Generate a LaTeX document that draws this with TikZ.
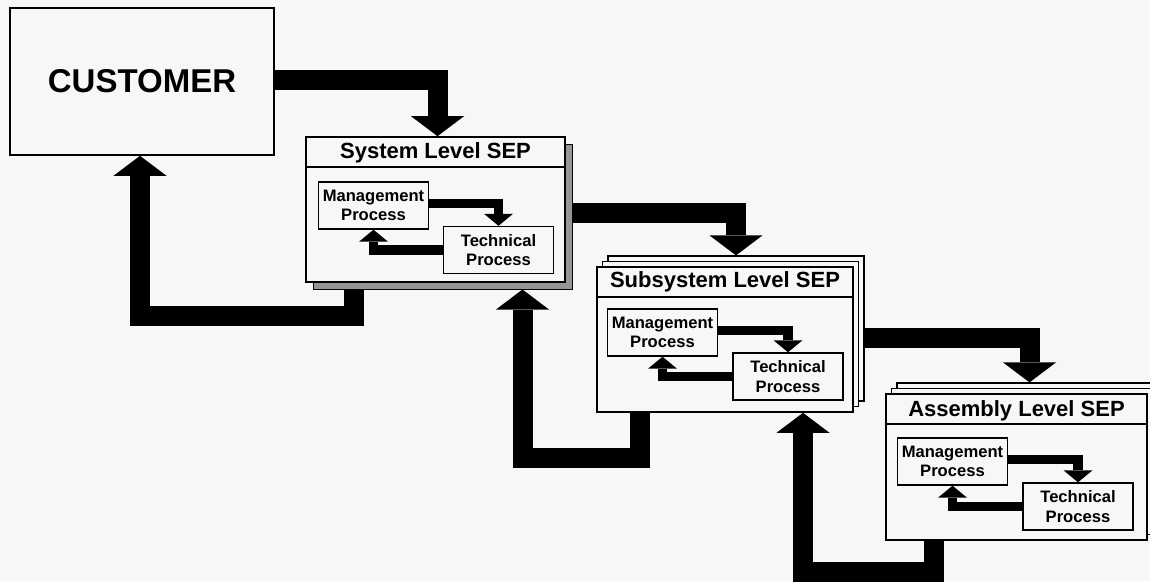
\documentclass[tikz,border=0pt]{standalone}
\usepackage{fontspec}
\setmainfont{Liberation Sans}
\usetikzlibrary{arrows.meta}
\definecolor{paper}{RGB}{247,247,247}
\definecolor{shade}{RGB}{150,150,150}

\begin{document}
\begin{tikzpicture}
[x=1pt,y=-1pt,
  boxDecorate/.style={draw,line width=1.6pt,fill=paper,inner sep=0pt},%
  sheetDecorate/.style={draw,line width=1.2pt,fill=paper,inner sep=0pt},%
  shadowDecorate/.style={draw,line width=1pt,fill=shade,inner sep=0pt},%
  procDecorate/.style={draw,line width=1.4pt,fill=paper,inner sep=0pt,align=center,
    minimum width=110pt,minimum height=47pt,font=\fontsize{16.6}{19.5}\selectfont\bfseries},%
  titleDecorate/.style={inner sep=0pt,text height=15pt,text depth=0pt,
    font=\fontsize{22}{26}\selectfont\bfseries},%
  bigArrow/.style={-{Triangle[width=53pt,length=20pt,line width=0pt 0 0]},line width=20pt},%
  smallArrow/.style={-{Triangle[width=29pt,length=12pt,line width=0pt 0 0]},line width=9.5pt}]
\useasboundingbox (0,0) rectangle (1150,581);
\fill[paper] (0,0) rectangle (1150,581);
\clip (0,0) rectangle (1150,581);
%% customer
\node (customer) at (142,81.5) [boxDecorate,minimum width=264pt,minimum height=147pt,
  font=\fontsize{33}{40}\selectfont\bfseries] {CUSTOMER};
%% sheets behind the level boxes
\node (sysbk) at (442.5,216.5) [shadowDecorate,minimum width=259pt,minimum height=145pt] {};
\foreach \nodename/\x/\y/\w/\h in {
  subbk/736/328.5/256/145, submid/730.5/334/256/145,
  asmbk/1027.5/456/261/146, asmmid/1022/461.5/261/146}
{
  \node (\nodename) at (\x,\y) [sheetDecorate,minimum width=\w pt,minimum height=\h pt] {};
}
%% level boxes
\foreach \nodename/\x/\y/\w/\h in {
  sys/435.5/209.5/259/145, sub/725/339.5/256/145, asm/1016.5/467/261/146}
{
  \node (\nodename) at (\x,\y) [boxDecorate,minimum width=\w pt,minimum height=\h pt] {};
  \draw[line width=1.6pt] ([yshift=-31]\nodename.north west) -- ([yshift=-31]\nodename.north east);
}
\node (systitle) at ([yshift=-15]sys.north) [titleDecorate] {System Level SEP};
\node (subtitle) at ([yshift=-14]sub.north) [titleDecorate] {Subsystem Level SEP};
\node (asmtitle) at ([yshift=-16]asm.north) [titleDecorate] {Assembly Level SEP};
%% process boxes
\foreach \nodename/\x/\y/\txt in {
  sysmgmt/373.5/205.5/Management\\Process, systech/498.5/250/Technical\\Process,
  submgmt/662.5/332.5/Management\\Process, subtech/788/376.5/Technical\\Process,
  asmmgmt/952.5/461.5/Management\\Process, asmtech/1078/506.5/Technical\\Process}
{
  \node (\nodename) at (\x,\y) [procDecorate] {\txt};
}
%% arrows inside each level
\foreach \lvl in {sys,sub,asm}
{
  \draw[smallArrow] ([yshift=2]\lvl mgmt.east) -| (\lvl tech.north);
  \draw[smallArrow] (\lvl tech.west) -| (\lvl mgmt.south);
}
%% arrows down the levels
\draw[bigArrow] ([yshift=1.5]customer.east) -| ([xshift=2]sys.north);
\draw[bigArrow] ([yshift=4]sysbk.east) -| (subbk.north);
\draw[bigArrow] ([yshift=-9]subbk.east) -| ([xshift=2]asmbk.north);
%% arrows back up
\draw[bigArrow] ([xshift=-89]sysbk.south) -- ++(0,26) -| ([xshift=-2]customer.south);
\draw[bigArrow] ([xshift=-85]sub.south) -- ++(0,45) -| ([xshift=80]sysbk.south);
\draw[bigArrow] ([xshift=-83]asm.south) -- ++(0,31) -| ([xshift=78]sub.south);
\end{tikzpicture}
\end{document}
